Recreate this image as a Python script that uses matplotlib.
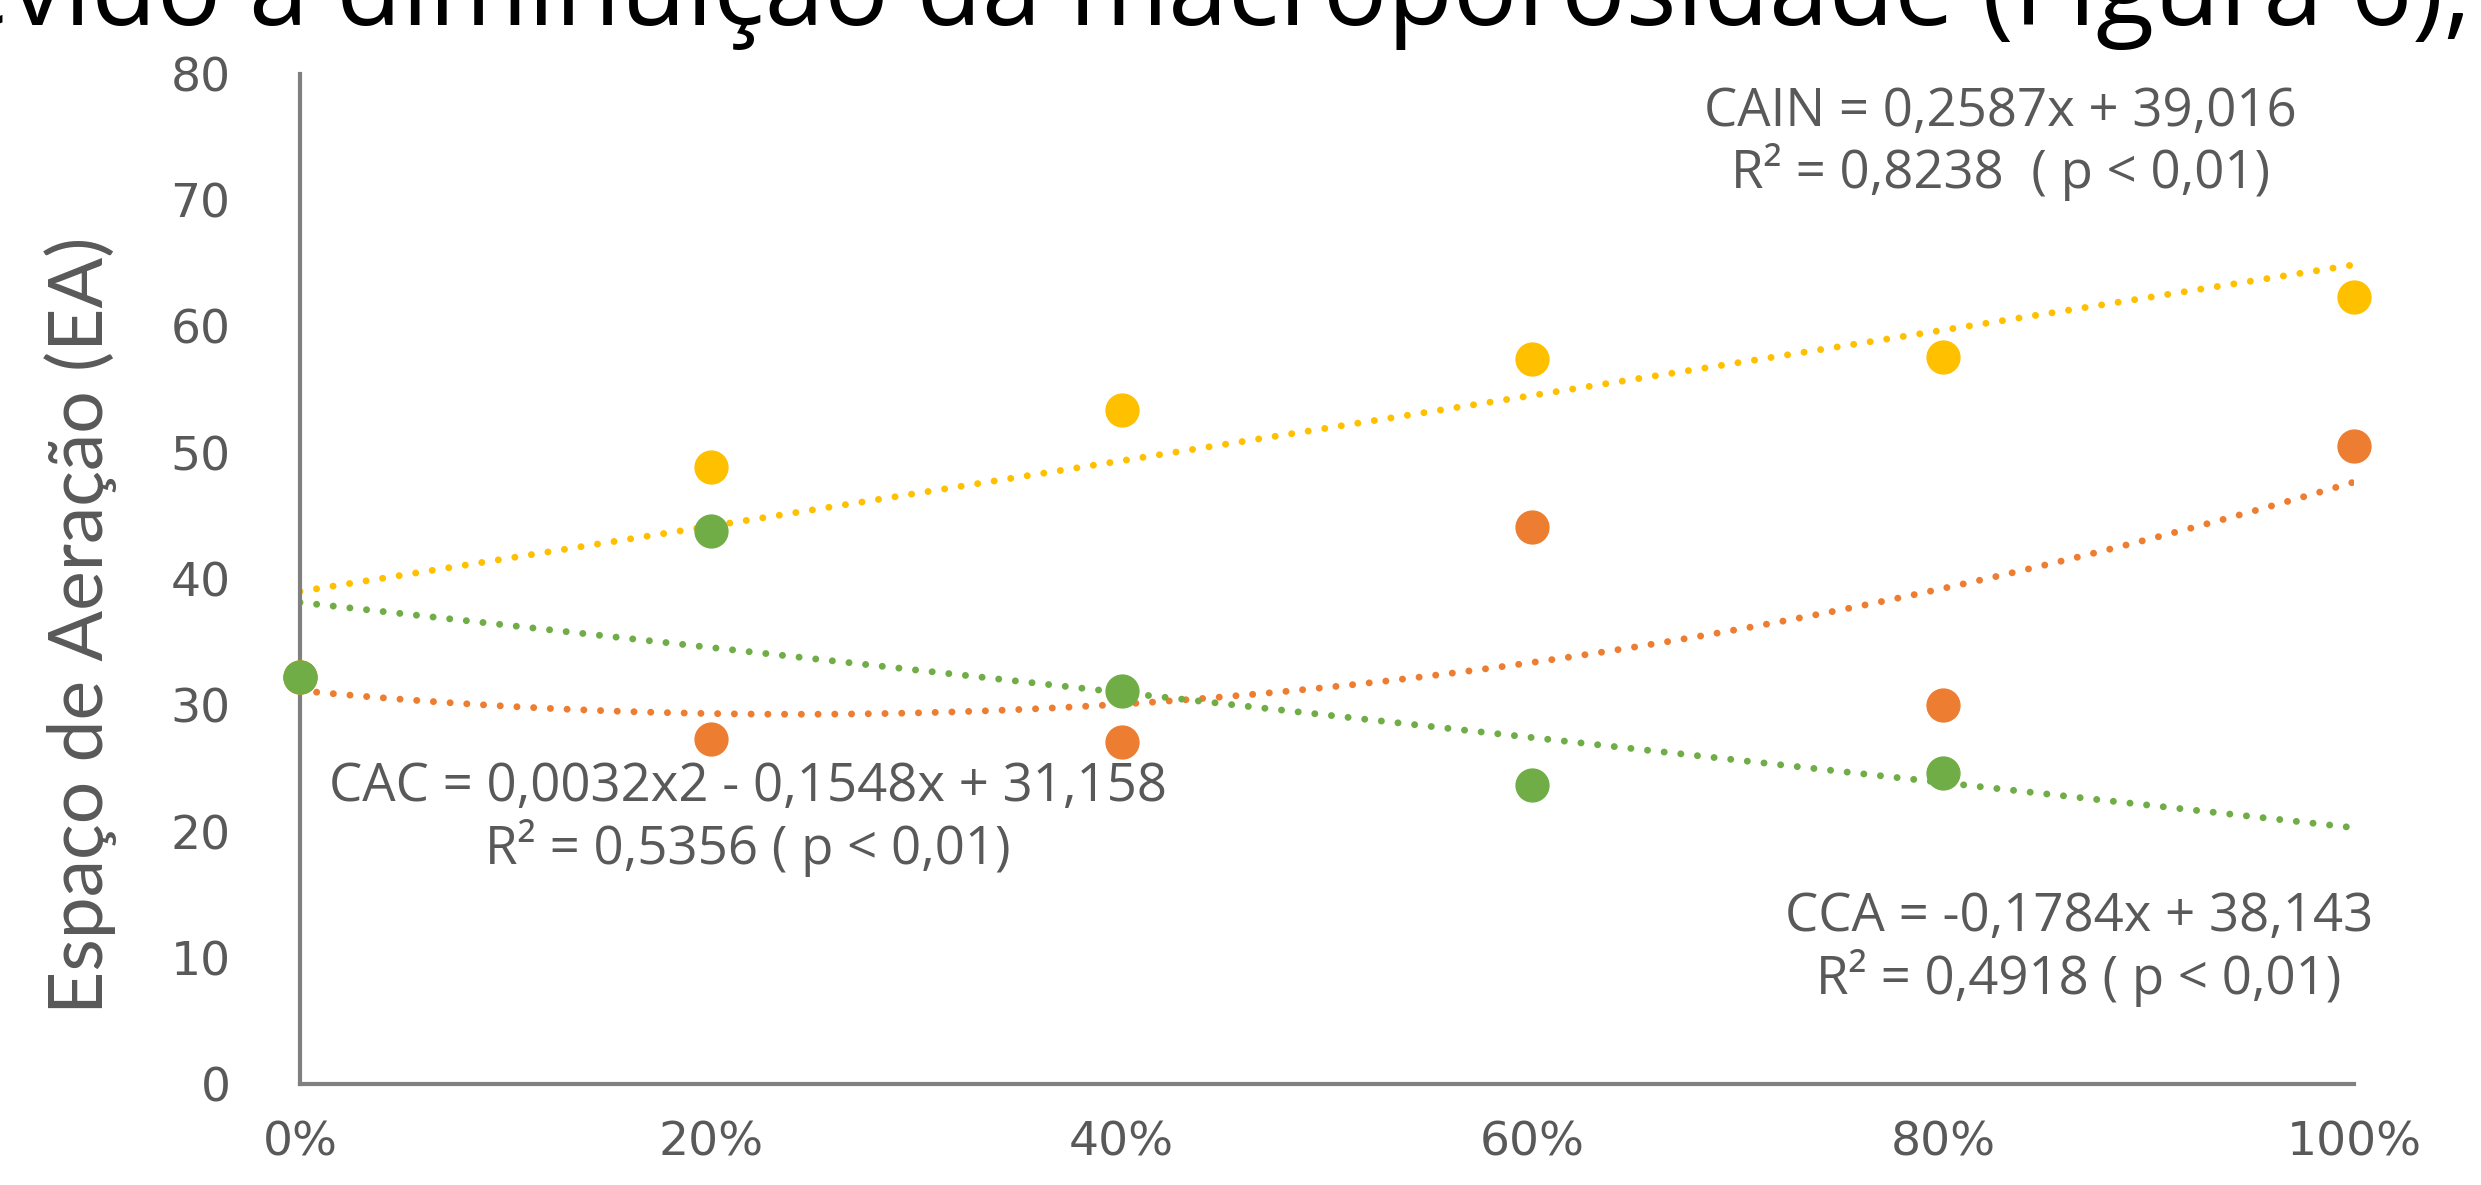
import numpy as np
import matplotlib
matplotlib.use('Agg')
import matplotlib.pyplot as plt

# dados
doses = [0, 20, 40, 60, 80, 100]
cain = [32.2, 48.9, 53.4, 57.4, 57.6, 62.3]
cac = [32.2, 27.3, 27.1, 44.1, 30.0, 50.5]
cca_x = [0, 20, 40, 60, 80]
cca = [32.2, 43.8, 31.1, 23.7, 24.6]

# coeficientes das linhas de tendência (do próprio gráfico)
coef_cain = [0.2587, 39.016]
coef_cac = [0.0032, -0.1548, 31.158]
coef_cca = [-0.1784, 38.143]

x_ticks = [0, 20, 40, 60, 80, 100]
x_labels = ['0%', '20%', '40%', '60%', '80%', '100%']
y_ticks = [0, 10, 20, 30, 40, 50, 60, 70, 80]

amarelo = '#FFC000'
laranja = '#ED7D31'
verde = '#70AD47'
cinza = '#595959'

fig = plt.figure(figsize=(24.81, 11.85), dpi=100)
ax = fig.add_axes([0.1209, 0.0852, 0.8279, 0.8524])

# linhas de tendência
xs = np.linspace(0, 100, 200)
pontilhado = dict(ls=(0, (0.01, 2.4)), lw=5, dash_capstyle='round')
ax.plot(xs, np.polyval(coef_cain, xs), color=amarelo, **pontilhado)
ax.plot(xs, np.polyval(coef_cac, xs), color=laranja, **pontilhado)
ax.plot(xs, np.polyval(coef_cca, xs), color=verde, **pontilhado)

# pontos
ax.scatter(doses, cain, s=560, color=amarelo, zorder=3, clip_on=False)
ax.scatter(doses, cac, s=560, color=laranja, zorder=3, clip_on=False)
ax.scatter(cca_x, cca, s=560, color=verde, zorder=3, clip_on=False)

ax.set_xlim(0, 100)
ax.set_ylim(0, 80)
ax.set_xticks(x_ticks)
ax.set_xticklabels(x_labels)
ax.set_yticks(y_ticks)
ax.tick_params(length=0, labelsize=34, colors=cinza)
ax.tick_params(axis='x', pad=26)
ax.tick_params(axis='y', pad=50)

for s in ['top', 'right']:
    ax.spines[s].set_visible(False)
for s in ['left', 'bottom']:
    ax.spines[s].set_color('#808080')
    ax.spines[s].set_linewidth(3)

ax.set_ylabel('Espaço de Aeração (EA)', fontsize=54, color=cinza, family='Lato')
ax.yaxis.set_label_coords(-0.089, 0.454)

fonte_eq = dict(fontsize=38, color=cinza, family='Open Sans', ha='center',
                va='center', linespacing=1.1)
ax.text(82.8, 74.5, 'CAIN = 0,2587x + 39,016\nR² = 0,8238  ( p < 0,01)', **fonte_eq)
ax.text(21.8, 21.0, 'CAC = 0,0032x2 - 0,1548x + 31,158\nR² = 0,5356 ( p < 0,01)', **fonte_eq)
ax.text(86.6, 10.7, 'CCA = -0,1784x + 38,143\nR² = 0,4918 ( p < 0,01)', **fonte_eq)

# resto do texto do documento, cortado no topo como no original
fig.text(0.996, 0.979, 'devido à diminuição da macroporosidade (Figura 6),',
         fontsize=77, family='Open Sans', ha='right', va='baseline', color='black')

fig.savefig('out.png', dpi=100, facecolor='white')
